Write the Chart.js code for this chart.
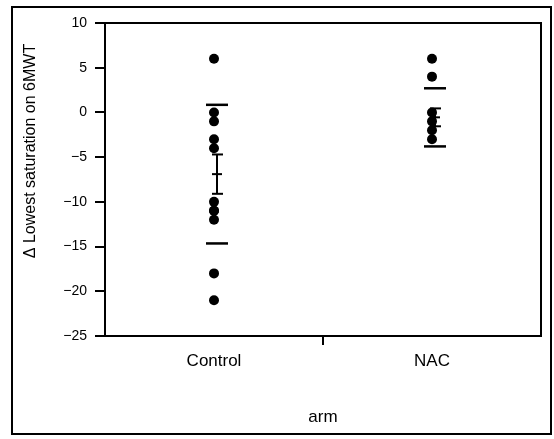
<!DOCTYPE html>
<html>
<head>
<meta charset="utf-8">
<title>Lowest saturation on 6MWT by arm</title>
<script src="https://cdn.jsdelivr.net/npm/chart.js@4.4.0/dist/chart.umd.min.js"></script>
<style>
  body { margin: 0; background: #fff; }
</style>
</head>
<body>
<canvas id="chart" width="554" height="439"></canvas>
<script>
// values
const arms = ["Control", "NAC"];
const controlValues = [6, 0, -1, -3, -4, -10, -11, -11, -12, -18, -21];
const nacValues = [6, 4, 0, -1, -2, -3];
const armMeans = [-6.9, -0.55];
const armSD = [7.75, 3.25];
const armSE = [2.2, 1.0];
const yTicks = [10, 5, 0, -5, -10, -15, -20, -25];
const yTitle = "\u0394 Lowest saturation on 6MWT";
const xTitle = "arm";

const fontFamily = "'Liberation Sans', Arial, Helvetica, sans-serif";

function toPoints(arm, values) {
  return values.map(v => ({ x: arm, y: v }));
}

// frame, top/right box edges and y title
const framePlugin = {
  id: "frame",
  afterDraw(chart) {
    const c = chart.ctx;
    const area = chart.chartArea;
    c.save();
    c.strokeStyle = "#000";
    c.lineWidth = 2;
    c.strokeRect(12, 7, chart.width - 15, chart.height - 12);
    c.beginPath();
    c.moveTo(area.left, area.top);
    c.lineTo(area.right, area.top);
    c.lineTo(area.right, area.bottom);
    c.stroke();

    c.translate(31, area.top + 128);
    c.rotate(-Math.PI / 2);
    c.fillStyle = "#000";
    c.font = "16px " + fontFamily;
    c.textAlign = "center";
    c.textBaseline = "middle";
    c.fillText(yTitle, 0, 0);
    c.restore();
  }
};

// mean, standard error bar and std dev lines per arm
const meanBarsPlugin = {
  id: "meanBars",
  afterDatasetsDraw(chart) {
    const c = chart.ctx;
    const xs = chart.scales.x;
    const ys = chart.scales.y;
    function seg(x1, y1, x2, y2, w) {
      c.lineWidth = w;
      c.beginPath();
      c.moveTo(x1, y1);
      c.lineTo(x2, y2);
      c.stroke();
    }
    c.save();
    c.strokeStyle = "#000";
    arms.forEach((arm, i) => {
      const x = xs.getPixelForValue(i) + 3;
      const m = armMeans[i];
      const yHi = ys.getPixelForValue(m + armSD[i]);
      const yLo = ys.getPixelForValue(m - armSD[i]);
      seg(x - 11, yHi, x + 11, yHi, 2.5);
      seg(x - 11, yLo, x + 11, yLo, 2.5);

      const seTop = ys.getPixelForValue(m + armSE[i]);
      const seBot = ys.getPixelForValue(m - armSE[i]);
      const yMean = ys.getPixelForValue(m);
      seg(x, seTop, x, seBot, 2);
      seg(x - 5, seTop, x + 6, seTop, 2);
      seg(x - 5, seBot, x + 6, seBot, 2);
      seg(x - 5, yMean, x + 5, yMean, 2);
    });
    c.restore();
  }
};

const ctx = document.getElementById("chart");
new Chart(ctx, {
  type: "line",
  data: {
    labels: arms,
    datasets: [
      { label: "Control", data: toPoints("Control", controlValues) },
      { label: "NAC", data: toPoints("NAC", nacValues) }
    ].map(ds => Object.assign(ds, {
      showLine: false,
      pointRadius: 5,
      pointBackgroundColor: "#000",
      pointBorderColor: "#000",
      pointBorderWidth: 0
    }))
  },
  options: {
    responsive: false,
    animation: false,
    layout: { padding: { left: 0, top: 23, right: 13, bottom: 0 } },
    plugins: {
      legend: { display: false },
      tooltip: { enabled: false }
    },
    scales: {
      x: {
        type: "category",
        offset: true,
        grid: {
          offset: true,
          drawOnChartArea: false,
          tickLength: 9,
          lineWidth: 2,
          color: c => (c.index === 1 ? "#000" : "rgba(0,0,0,0)")
        },
        border: { color: "#000", width: 2 },
        ticks: { color: "#000", padding: 6, font: { family: fontFamily, size: 17 } },
        title: {
          display: true,
          text: xTitle,
          color: "#000",
          font: { family: fontFamily, size: 17 },
          padding: { top: 0, bottom: 11 }
        },
        afterFit: s => { s.height = 103; }
      },
      y: {
        min: -25,
        max: 10,
        afterBuildTicks: s => { s.ticks = yTicks.map(v => ({ value: v })); },
        grid: { drawOnChartArea: false, tickLength: 10, lineWidth: 2, color: "#000" },
        border: { color: "#000", width: 2 },
        ticks: {
          color: "#000",
          padding: 8,
          font: { family: fontFamily, size: 14 },
          callback: v => String(v).replace("-", "\u2212")
        },
        afterFit: s => { s.width = 105; }
      }
    }
  },
  plugins: [framePlugin, meanBarsPlugin]
});
</script>
</body>
</html>
